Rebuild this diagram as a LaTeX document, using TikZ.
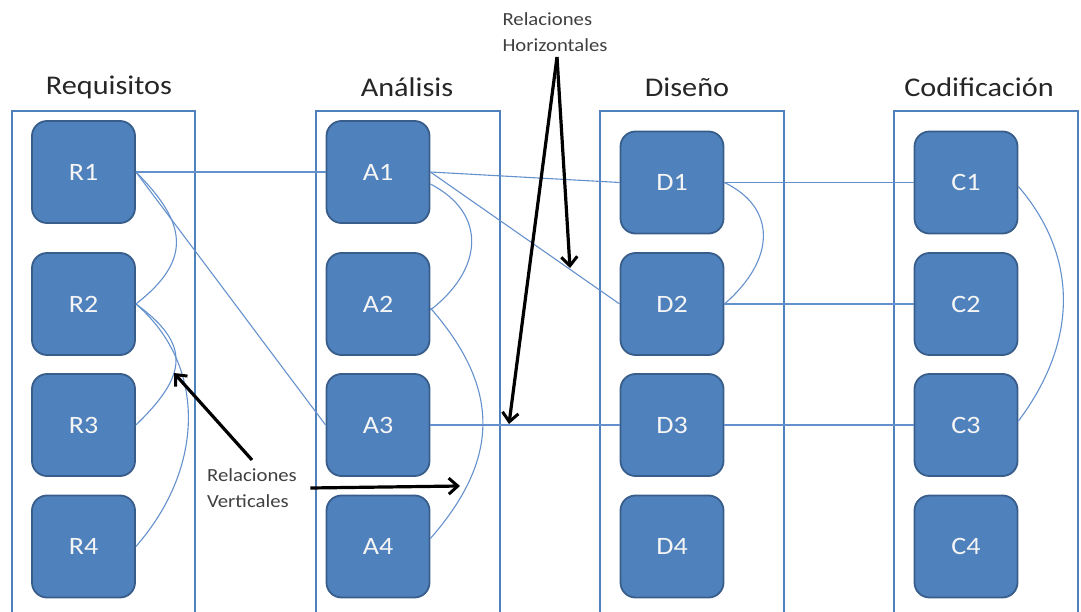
\documentclass[tikz,border=0pt]{standalone}
\usepackage{fontspec}
\setmainfont{Carlito}[FakeStretch=1.12]
\usetikzlibrary{arrows.meta,positioning}

\definecolor{officeblue}{RGB}{79,129,189}
\definecolor{darkblue}{RGB}{56,93,138}
\definecolor{relblue}{RGB}{100,145,205}

\tikzset{
    stage/.style={draw=officeblue, line width=2.5pt},
    item/.style={rectangle, rounded corners=15pt, draw=darkblue, line width=1.8pt, fill=officeblue,
        minimum width=103pt, minimum height=102pt, text=white!92!gray, font=\fontsize{25}{28}\selectfont},
    head/.style={font=\fontsize{27}{30}\selectfont, text=black!85},
    note/.style={font=\fontsize{18.5}{26}\selectfont, text=black!75, align=left},
    rel/.style={draw=relblue, line width=1.1pt},
    callout/.style={draw=black, line width=3.2pt, -{Straight Barb[length=9pt,width=16pt,line width=3pt]}}
}

\begin{document}
\begin{tikzpicture}[x=1pt, y=-1pt]
    \useasboundingbox (0,0) rectangle (1081,612);

    % Column frames (open at the bottom)
    \draw[stage] (12,614) -- (12,111) -- (195,111) -- (195,614);
    \draw[stage] (316,614) -- (316,111) -- (500,111) -- (500,614);
    \draw[stage] (600,614) -- (600,111) -- (784,111) -- (784,614);
    \draw[stage] (894,614) -- (894,111) -- (1078,111) -- (1078,614);

    % Column titles
    \node[head] (treq) at (109,87) {Requisitos};
    \node[head] (tana) at (407,87) {Análisis};
    \node[head] (tdis) at (687,87) {Diseño};
    \node[head] (tcod) at (979,87) {Codificación};

    % Requisitos
    \node[item] (R1) at (83.5,172) {R1};
    \node[item] (R2) at (83.5,304) {R2};
    \node[item] (R3) at (83.5,425) {R3};
    \node[item] (R4) at (83.5,546.5) {R4};

    % Analisis
    \node[item] (A1) at (378,172) {A1};
    \node[item] (A2) at (378,304) {A2};
    \node[item] (A3) at (378,425) {A3};
    \node[item] (A4) at (378,546.5) {A4};

    % Diseno
    \node[item] (D1) at (672,182.5) {D1};
    \node[item] (D2) at (672,304) {D2};
    \node[item] (D3) at (672,425) {D3};
    \node[item] (D4) at (672,546.5) {D4};

    % Codificacion
    \node[item] (C1) at (966,182.5) {C1};
    \node[item] (C2) at (966,304) {C2};
    \node[item] (C3) at (966,425) {C3};
    \node[item] (C4) at (966,546.5) {C4};

    % Horizontal relations
    \draw[rel] (R1.east) -- (A1.west);
    \draw[rel] (R1.east) -- (A3.west);
    \draw[rel] (A1.east) -- (D1.west);
    \draw[rel] (A1.east) -- (D2.west);
    \draw[rel] (A3.east) -- (D3.west);
    \draw[rel] (D1.east) -- (C1.west);
    \draw[rel] (D2.east) -- (C2.west);
    \draw[rel] (D3.east) -- (C3.west);

    % Vertical relations
    \draw[rel] (R1.east) .. controls +(50,50) and +(58,-45) .. (R2.east);
    \draw[rel] (R2.east) .. controls +(55,40) and +(52,-50) .. (R3.east);
    \draw[rel] (R2.east) .. controls +(70,60) and +(70,-80) .. (R4.east);
    \draw[rel] ([yshift=-12pt]A1.east) .. controls +(58,30) and +(52,-40) .. ([yshift=-6pt]A2.east);
    \draw[rel] ([yshift=-4pt]A2.east) .. controls +(70,80) and +(70,-80) .. ([yshift=8pt]A4.east);
    \draw[rel] (D1.east) .. controls +(52,25) and +(52,-45) .. (D2.east);
    \draw[rel] ([yshift=-4pt]C1.east) .. controls +(60,70) and +(60,-80) .. ([yshift=4pt]C3.east);

    % Annotations
    \node[note] (hnote) at (555,32) {Relaciones\\Horizontales};
    \node[note] (vnote) at (252,488) {Relaciones\\Verticales};

    \coordinate (hgoal1) at (570,268);
    \coordinate (hgoal2) at (509,424);
    \coordinate (vgoal1) at (174,373);
    \coordinate (vgoal2) at (460,486);

    % Arrows
    \draw[callout] ([xshift=2pt,yshift=-2pt]hnote.south) -- (hgoal1);
    \draw[callout] ([xshift=2pt,yshift=-2pt]hnote.south) -- (hgoal2);
    \draw[callout] ([yshift=5pt]vnote.north) -- (vgoal1);
    \draw[callout] ([xshift=10pt]vnote.east) -- (vgoal2);
\end{tikzpicture}
\end{document}
